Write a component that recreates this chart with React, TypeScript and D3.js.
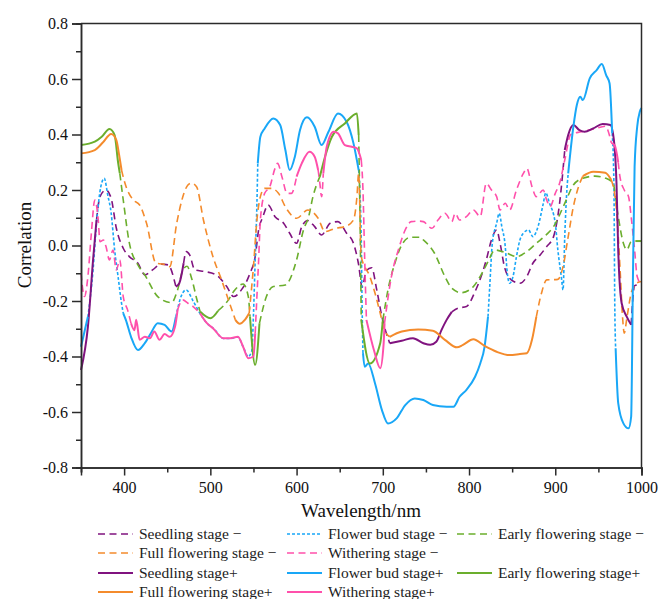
import { useRef, useEffect } from "react";
import * as d3 from "d3";

const W = 659;
const H = 599;
const FONT = "'Liberation Serif', 'Times New Roman', serif";

// correlation curves, [wavelength nm, r]
const seedling: [number, number][] = [
  [350, -0.449], [358, -0.293], [364, -0.052], [368, 0.092], [372, 0.176], [379, 0.2], [385, 0.17], [391, 0.062],
  [399, -0.01], [406, -0.04], [416, -0.064], [424, -0.106], [433, -0.088], [443, -0.067], [451, -0.07], [460, -0.148],
  [464, -0.136], [469, -0.064], [472, -0.022], [476, -0.034], [482, -0.088], [494, -0.094], [507, -0.106], [519, -0.148],
  [527, -0.184], [536, -0.16], [546, -0.1], [552, -0.04], [556, 0.056], [561, 0.104], [567, 0.146], [575, 0.104],
  [585, 0.08], [592, 0.044], [600, 0.008], [606, 0.068], [613, 0.09], [621, 0.068], [629, 0.038], [639, 0.08],
  [648, 0.086], [658, 0.044], [666, 0.008], [672, -0.07], [676, -0.15], [681, -0.09], [687, -0.08], [693, -0.16],
  [699, -0.257], [708, -0.352], [722, -0.343], [735, -0.334], [747, -0.352], [755, -0.358], [762, -0.347], [768, -0.305],
  [774, -0.268], [780, -0.239], [787, -0.226], [797, -0.22], [807, -0.166], [814, -0.112], [820, -0.052], [826, 0.02],
  [832, 0.056], [836, 0.008], [841, -0.076], [849, -0.124], [859, -0.136], [867, -0.112], [874, -0.064], [882, -0.036],
  [890, -0.004], [898, 0.032], [905, 0.152], [911, 0.344], [915, 0.398], [921, 0.434], [928, 0.416], [934, 0.41],
  [944, 0.422], [955, 0.438], [964, 0.434], [968, 0.38], [971, 0.224], [973, -0.016], [977, -0.208], [983, -0.257],
  [988, -0.286], [992, -0.145], [1000, -0.14],
];
const seedlingSolid: [number, number][] = [[350, 368], [460, 469], [708, 780], [911, 988]];

const flowerBud: [number, number][] = [
  [350, -0.365], [358, -0.257], [364, -0.088], [368, 0.08], [373, 0.212], [377, 0.242], [381, 0.182], [385, 0.116],
  [389, -0.016], [393, -0.112], [397, -0.208], [399, -0.244], [402, -0.268], [408, -0.329], [416, -0.377], [424, -0.352],
  [431, -0.316], [439, -0.28], [447, -0.286], [455, -0.31], [460, -0.257], [466, -0.184], [472, -0.16], [480, -0.2],
  [488, -0.245], [496, -0.28], [504, -0.3], [515, -0.335], [523, -0.335], [532, -0.33], [538, -0.365], [544, -0.4],
  [548, -0.38], [550, -0.25], [552, -0.05], [554, 0.15], [555, 0.296], [558, 0.392], [563, 0.422], [573, 0.458],
  [581, 0.434], [587, 0.344], [592, 0.272], [598, 0.32], [604, 0.416], [612, 0.462], [621, 0.428], [629, 0.362],
  [637, 0.41], [648, 0.476], [658, 0.446], [666, 0.368], [672, 0.272], [675, 0.02], [676, -0.22], [677, -0.388],
  [679, -0.437], [683, -0.425], [691, -0.497], [699, -0.593], [706, -0.641], [716, -0.623], [726, -0.575], [737, -0.551],
  [747, -0.557], [758, -0.575], [774, -0.581], [782, -0.581], [789, -0.545], [797, -0.52], [807, -0.473], [813, -0.425],
  [818, -0.365], [822, -0.257], [824, -0.148], [827, 0.008], [832, 0.08], [835, 0.116], [838, 0.068], [842, -0.004],
  [844, -0.088], [847, -0.136], [851, -0.112], [855, -0.04], [859, 0.02], [863, 0.044], [869, 0.056], [874, 0.032],
  [880, 0.068], [886, 0.15], [889, 0.19], [893, 0.155], [900, 0.08], [903, -0.016], [907, -0.112], [909, -0.16],
  [911, 0.032], [913, 0.176], [915, 0.26], [921, 0.428], [925, 0.506], [929, 0.536], [932, 0.524], [940, 0.602],
  [948, 0.632], [954, 0.654], [959, 0.614], [963, 0.584], [966, 0.404], [968, 0.224], [969, -0.21], [970, -0.37],
  [973, -0.568], [979, -0.641], [985, -0.659], [988, -0.617], [990, -0.136], [992, 0.284], [995, 0.428], [998, 0.482],
  [1000, 0.495],
];
const flowerBudSolid: [number, number][] = [[350, 358], [399, 460], [555, 672], [677, 822], [915, 966], [970, 1000]];

const earlyFlowering: [number, number][] = [
  [350, 0.362], [366, 0.374], [374, 0.392], [383, 0.42], [389, 0.398], [393, 0.3], [395, 0.26], [399, 0.164],
  [406, 0.01], [416, -0.07], [424, -0.106], [439, -0.184], [455, -0.206], [462, -0.16], [468, -0.09], [473, -0.075],
  [478, -0.115], [484, -0.19], [488, -0.238], [500, -0.262], [509, -0.235], [521, -0.196], [527, -0.166], [538, -0.139],
  [544, -0.184], [546, -0.257], [552, -0.43], [557, -0.28], [565, -0.184], [573, -0.148], [587, -0.142], [600, -0.052],
  [608, 0.056], [614, 0.104], [619, 0.176], [627, 0.248], [633, 0.32], [641, 0.392], [656, 0.44], [670, 0.476],
  [672, 0.398], [674, 0.0], [675, -0.268], [685, -0.425], [697, -0.352], [700, -0.27], [706, -0.16], [714, -0.064],
  [722, 0.002], [732, 0.03], [743, 0.03], [747, 0.02], [760, -0.028], [772, -0.112], [780, -0.154], [791, -0.17],
  [805, -0.148], [815, -0.1], [822, -0.058], [830, -0.016], [844, -0.028], [855, -0.04], [867, -0.022], [878, 0.008],
  [890, 0.04], [898, 0.068], [911, 0.152], [921, 0.218], [932, 0.242], [946, 0.25], [959, 0.242], [967, 0.224],
  [973, 0.104], [979, 0.008], [983, -0.016], [988, 0.014], [993, 0.016], [1000, 0.016],
];
const earlyFloweringSolid: [number, number][] = [[350, 395], [488, 509], [546, 557], [627, 672], [675, 700], [993, 1000]];

const fullFlowering: [number, number][] = [
  [350, 0.332], [366, 0.344], [375, 0.37], [385, 0.402], [391, 0.38], [394, 0.33], [397, 0.272], [401, 0.224],
  [410, 0.166], [418, 0.146], [426, 0.08], [437, -0.064], [445, -0.067], [453, -0.076], [461, 0.08], [474, 0.218],
  [478, 0.225], [484, 0.212], [492, 0.092], [503, -0.04], [513, -0.124], [521, -0.196], [529, -0.268], [534, -0.282],
  [540, -0.268], [545, -0.244], [550, -0.076], [554, 0.092], [558, 0.176], [563, 0.206], [571, 0.206], [579, 0.188],
  [588, 0.134], [600, 0.098], [613, 0.128], [625, 0.098], [633, 0.05], [645, 0.062], [656, 0.068], [666, 0.092],
  [670, 0.176], [672, 0.26], [675, -0.04], [685, -0.112], [691, -0.172], [697, -0.244], [702, -0.305], [708, -0.329],
  [722, -0.31], [741, -0.303], [758, -0.307], [772, -0.34], [786, -0.367], [793, -0.358], [805, -0.338], [818, -0.362],
  [832, -0.383], [847, -0.395], [859, -0.391], [867, -0.388], [873, -0.34], [878, -0.257], [884, -0.172], [890, -0.124],
  [903, -0.122], [909, -0.076], [915, 0.032], [921, 0.14], [927, 0.212], [932, 0.25], [944, 0.266], [958, 0.262],
  [965, 0.236], [971, 0.128], [975, -0.076], [978, -0.257], [980, -0.316], [983, -0.262], [988, -0.172], [994, -0.136],
  [1000, -0.13],
];
const fullFloweringSolid: [number, number][] = [[350, 397], [529, 545], [708, 878], [932, 965]];

const withering: [number, number][] = [
  [350, -0.1], [354, -0.184], [358, -0.112], [362, 0.044], [366, 0.164], [370, 0.092], [372, 0.014], [376, 0.02],
  [379, -0.004], [383, -0.052], [387, -0.016], [391, -0.088], [395, -0.052], [399, -0.184], [404, -0.232], [408, -0.28],
  [412, -0.305], [414, -0.268], [418, -0.34], [424, -0.329], [430, -0.334], [435, -0.31], [441, -0.34], [447, -0.319],
  [453, -0.329], [459, -0.293], [462, -0.232], [468, -0.196], [474, -0.208], [480, -0.22], [488, -0.244], [496, -0.28],
  [503, -0.298], [515, -0.334], [523, -0.334], [532, -0.329], [538, -0.365], [544, -0.406], [550, -0.4], [552, -0.316],
  [554, -0.184], [556, -0.052], [558, 0.092], [563, 0.188], [569, 0.212], [575, 0.278], [578, 0.296], [583, 0.248],
  [589, 0.188], [594, 0.188], [600, 0.248], [606, 0.296], [615, 0.338], [621, 0.32], [625, 0.272], [627, 0.224],
  [629, 0.176], [631, 0.26], [635, 0.356], [643, 0.41], [648, 0.404], [656, 0.362], [664, 0.356], [670, 0.35],
  [675, 0.308], [677, 0.2], [679, -0.05], [681, -0.268], [690, -0.38], [697, -0.442], [701, -0.352], [702, -0.28],
  [710, -0.112], [718, -0.016], [726, 0.056], [733, 0.086], [743, 0.088], [747, 0.086], [757, 0.062], [764, 0.092],
  [772, 0.116], [780, 0.086], [784, 0.116], [789, 0.092], [797, 0.104], [805, 0.128], [813, 0.104], [820, 0.224],
  [826, 0.2], [832, 0.176], [836, 0.128], [842, 0.152], [847, 0.128], [855, 0.2], [863, 0.26], [867, 0.278],
  [873, 0.212], [878, 0.176], [886, 0.2], [890, 0.164], [894, 0.14], [900, 0.188], [905, 0.224], [911, 0.308],
  [918, 0.4], [930, 0.41], [945, 0.42], [958, 0.43], [965, 0.37], [969, 0.36], [973, 0.3], [975, 0.248],
  [980, 0.2], [985, 0.176], [988, 0.104], [992, -0.016], [995, -0.112], [1000, -0.14],
];
const witheringSolid: [number, number][] = [[408, 462], [488, 552], [600, 625], [631, 675], [681, 702], [965, 973]];

const stageNames = ["Seedling stage", "Flower bud stage", "Early flowering stage", "Full flowering stage", "Withering stage"];
const stageColors = ["#80137f", "#19a7f7", "#6bae2d", "#f48b2c", "#ff50ab"];
const stageDash = ["7,4.5", "3,2", "7,4.5", "7,4.5", "7,4.5"];
const curves = [seedling, flowerBud, earlyFlowering, fullFlowering, withering];
const solidRanges = [seedlingSolid, flowerBudSolid, earlyFloweringSolid, fullFloweringSolid, witheringSolid];

const yTicks = [-0.8, -0.6, -0.4, -0.2, 0.0, 0.2, 0.4, 0.6, 0.8];
const xTicks = [400, 500, 600, 700, 800, 900, 1000];

// legend grid: [column, row] for the 10 entries (minus series then plus series)
const legendCols = [0, 1, 2, 0, 1];
const legendRowsMinus = [0, 0, 0, 1, 1];
const legendRowsPlus = [2, 2, 2, 3, 3];

function pick(curve: [number, number][], a: number, b: number) {
  return curve.filter((p) => p[0] >= a && p[0] <= b);
}

function splitCurve(curve: [number, number][], ranges: [number, number][]) {
  const first = curve[0][0];
  const last = curve[curve.length - 1][0];
  const solid = ranges.map(([a, b]) => pick(curve, a, b));
  const dashed: [number, number][][] = [];
  let start = first;
  ranges.forEach(([a, b]) => {
    if (a > start) dashed.push(pick(curve, start, a));
    start = b;
  });
  if (start < last) dashed.push(pick(curve, start, last));
  return { solid, dashed };
}

export default function App() {
  const ref = useRef<SVGSVGElement>(null);

  useEffect(() => {
    const svg = d3.select(ref.current);
    svg.selectAll("*").remove();

    const x = d3.scaleLinear([350, 1000], [81, 641.5]);
    const y = d3.scaleLinear([-0.8, 0.8], [467.5, 23.5]);
    const line = d3
      .line<[number, number]>()
      .x((d) => x(d[0]))
      .y((d) => y(d[1]))
      .curve(d3.curveMonotoneX);

    const plot = svg.append("g");
    const parts = curves.map((c, i) => splitCurve(c, solidRanges[i]));

    // dashed (minus) series first, then solid (plus) series on top
    parts.forEach((p, i) => {
      p.dashed.forEach((seg) => {
        plot.append("path").attr("d", line(seg)).attr("fill", "none").attr("stroke", stageColors[i])
          .attr("stroke-width", 1.6).attr("stroke-dasharray", stageDash[i]);
      });
    });
    parts.forEach((p, i) => {
      p.solid.forEach((seg) => {
        plot.append("path").attr("d", line(seg)).attr("fill", "none").attr("stroke", stageColors[i])
          .attr("stroke-width", 2).attr("stroke-linejoin", "round");
      });
    });

    // frame
    svg.append("path").attr("d", `M81,23.5H641.5V467.5`).attr("fill", "none").attr("stroke", "#2b2b2b").attr("stroke-width", 1.5);

    const yAxis = svg.append("g").attr("transform", "translate(81,0)")
      .call(d3.axisLeft(y).tickValues(yTicks).tickSize(9).tickFormat((d) => (+d).toFixed(1)));
    svg.append("g").attr("transform", "translate(81,0)")
      .call(d3.axisLeft(y).tickValues(d3.range(-0.7, 0.8, 0.2)).tickSize(5).tickFormat(() => ""));
    const xAxis = svg.append("g").attr("transform", "translate(0,467.5)")
      .call(d3.axisBottom(x).tickValues(xTicks).tickSize(8).tickFormat((d) => String(d)));
    svg.append("g").attr("transform", "translate(0,467.5)")
      .call(d3.axisBottom(x).tickValues(d3.range(350, 1000, 100)).tickSize(5).tickFormat(() => ""));

    yAxis.attr("font-family", FONT);
    xAxis.attr("font-family", FONT);
    svg.selectAll(".domain").attr("stroke", "#2b2b2b").attr("stroke-width", 1.5);
    svg.selectAll(".tick line").attr("stroke", "#2b2b2b").attr("stroke-width", 1.5);
    yAxis.selectAll("text").attr("font-family", FONT).attr("font-size", 16).attr("fill", "#111").attr("x", -13);
    xAxis.selectAll("text").attr("font-family", FONT).attr("font-size", 16).attr("fill", "#111").attr("y", 14);

    svg.append("text").attr("x", 361).attr("y", 517).attr("text-anchor", "middle")
      .attr("font-family", FONT).attr("font-size", 19).attr("fill", "#111").text("Wavelength/nm");
    svg.append("text").attr("transform", "translate(31,245) rotate(-90)").attr("text-anchor", "middle")
      .attr("font-family", FONT).attr("font-size", 19).attr("fill", "#111").text("Correlation");

    // legend
    const colX = [98, 287, 457];
    const rowY = [534, 553, 573, 592];
    const leg = svg.append("g");
    const addItem = (i: number, col: number, row: number, plus: boolean) => {
      const lx = colX[col];
      const ly = rowY[row];
      leg.append("line").attr("x1", lx).attr("x2", lx + 35).attr("y1", ly).attr("y2", ly)
        .attr("stroke", stageColors[i]).attr("stroke-width", plus ? 2 : 1.6)
        .attr("stroke-dasharray", plus ? null : stageDash[i]);
      leg.append("text").attr("x", lx + 41).attr("y", ly + 5).attr("font-family", FONT).attr("font-size", 15.5)
        .attr("fill", "#222").text(stageNames[i] + (plus ? "+" : " −"));
    };
    stageNames.forEach((_, i) => addItem(i, legendCols[i], legendRowsMinus[i], false));
    stageNames.forEach((_, i) => addItem(i, legendCols[i], legendRowsPlus[i], true));
  }, []);

  return (
    <div style={{ position: "absolute", left: 0, top: 0 }}>
      <svg ref={ref} width={W} height={H} style={{ display: "block", background: "#fff" }} />
    </div>
  );
}
